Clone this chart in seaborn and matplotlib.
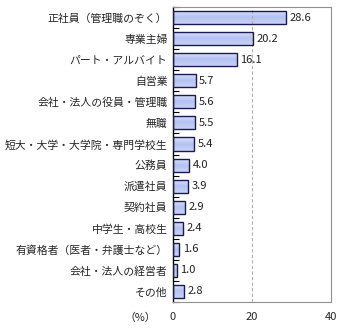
import numpy as np
import pandas as pd
import matplotlib
matplotlib.use("Agg")
import matplotlib.pyplot as plt
import seaborn as sns

categories = ["正社員（管理職のぞく）", "専業主婦", "パート・アルバイト", "自営業",
              "会社・法人の役員・管理職", "無職", "短大・大学・大学院・専門学校生",
              "公務員", "派遣社員", "契約社員", "中学生・高校生",
              "有資格者（医者・弁護士など）", "会社・法人の経営者", "その他"]
values = [28.6, 20.2, 16.1, 5.7, 5.6, 5.5, 5.4, 4.0, 3.9, 2.9, 2.4, 1.6, 1.0, 2.8]
x_ticks = [0, 20, 40]
unit_label = "（%）"

sns.set_theme(style="white")
plt.rcParams['font.family'] = ['Noto Sans CJK JP', 'DejaVu Sans']

df = pd.DataFrame({"cat": categories, "val": values})

fig = plt.figure(figsize=(3.4, 3.33), dpi=100)
ax = fig.add_axes([0.509, 0.093, 0.465, 0.886])

sns.barplot(data=df, x="val", y="cat", ax=ax, color="#c0ccf5",
            edgecolor="#1a1a50", linewidth=1.0, width=0.62, saturation=1)

# gradient fill on bars
grad = np.linspace(0, 1, 64).reshape(-1, 1)
cmap = matplotlib.colors.LinearSegmentedColormap.from_list(
    "g", ["#dde4fc", "#b4c2f2", "#c8d2f7"])
for p in ax.patches:
    x0, y0 = p.get_x(), p.get_y()
    w, h = p.get_width(), p.get_height()
    im = ax.imshow(grad, cmap=cmap, aspect="auto",
                   extent=[x0, x0 + w, y0 + h, y0], zorder=p.get_zorder() - 0.1)
    im.set_clip_path(p)
    p.set_facecolor("none")
    p.set_zorder(3)

ax.set_xlim(0, 40)
ax.set_ylim(len(categories) - 0.5, -0.5)
ax.set_xticks(x_ticks)
ax.set_xticklabels([str(t) for t in x_ticks], fontsize=8)
ax.set_xlabel("")
ax.set_ylabel("")
ax.tick_params(axis="y", labelsize=7.8, length=0, pad=4)
ax.tick_params(axis="x", length=0, pad=7)

ax.axvline(20, color="#b0b0b0", linestyle=(0, (3, 2)), linewidth=0.8, zorder=1)

for side in ["top", "right", "bottom"]:
    ax.spines[side].set_color("#909090")
    ax.spines[side].set_linewidth(0.8)
ax.spines["left"].set_color("black")
ax.spines["left"].set_linewidth(1.0)

# minor ticks on left spine between categories
ax.set_yticks(np.arange(-0.5, len(categories), 1.0), minor=True)
ax.tick_params(axis="y", which="minor", length=4, direction="in", color="black", width=0.8, left=True)

for i, v in enumerate(values):
    ax.text(v + 0.9, i, f"{v:.1f}", va="center", ha="left", fontsize=8, color="#222222")

ax.text(-0.11, -0.054, unit_label, transform=ax.transAxes, ha="right", va="center", fontsize=7.8)

fig.savefig("out.png", dpi=100)
